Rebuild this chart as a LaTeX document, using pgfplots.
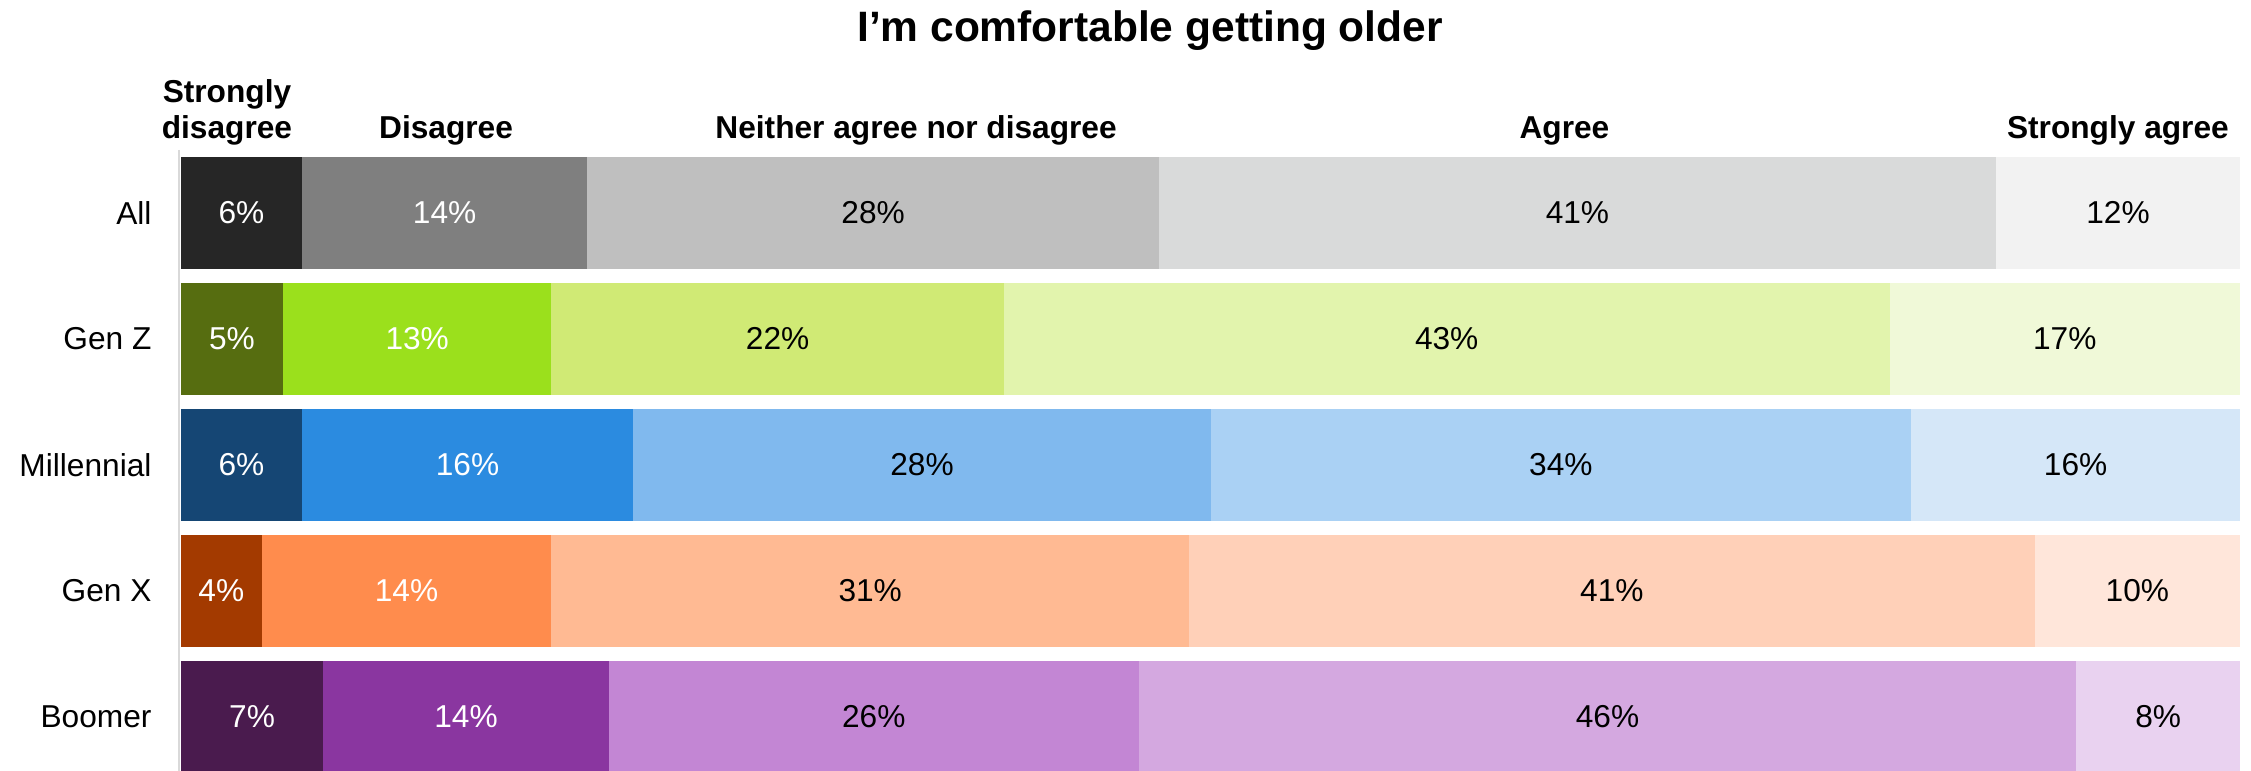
\documentclass[border=0pt]{standalone}
\usepackage{fontspec}
\setmainfont{Liberation Sans}
\usepackage{pgfplots}
\pgfplotsset{compat=1.18}

% --- colours -------------------------------------------------------------
\definecolor{a1}{HTML}{262626}\definecolor{a2}{HTML}{7F7F7F}\definecolor{a3}{HTML}{BFBFBF}\definecolor{a4}{HTML}{D9DADA}\definecolor{a5}{HTML}{F2F2F2}
\definecolor{z1}{HTML}{566D10}\definecolor{z2}{HTML}{9BE01C}\definecolor{z3}{HTML}{D0EA75}\definecolor{z4}{HTML}{E2F4AD}\definecolor{z5}{HTML}{F0F9D8}
\definecolor{m1}{HTML}{154674}\definecolor{m2}{HTML}{2B8BE0}\definecolor{m3}{HTML}{80B9EE}\definecolor{m4}{HTML}{AAD1F4}\definecolor{m5}{HTML}{D5E7F8}
\definecolor{x1}{HTML}{A33A00}\definecolor{x2}{HTML}{FF8C4D}\definecolor{x3}{HTML}{FFBA93}\definecolor{x4}{HTML}{FFD0B8}\definecolor{x5}{HTML}{FFE6DA}
\definecolor{b1}{HTML}{4A1B4E}\definecolor{b2}{HTML}{8A36A0}\definecolor{b3}{HTML}{C386D4}\definecolor{b4}{HTML}{D4A8E0}\definecolor{b5}{HTML}{E9D2F0}
\definecolor{axisgray}{HTML}{D9D9D9}

\newcommand{\lblfont}{\fontsize{11.4}{13.7}\selectfont}
\pgfplotsset{
  seg/.style={xbar, bar width=40.32pt, bar shift=0pt, draw=none, fill=#1, forget plot},
  lbl/.style={draw=none, mark=none, forget plot, nodes near coords,
    point meta=explicit symbolic,
    every node near coord/.style={anchor=center, inner sep=0pt, font=\lblfont, text=#1}},
}

\begin{document}
\begin{tikzpicture}
\useasboundingbox (-64.44pt,0pt) rectangle (745.92pt,277.56pt);
\begin{axis}[
  scale only axis,
  width=741.96pt, height=223.6pt,
  xmin=-0.1, xmax=100,
  ymin=-0.5, ymax=4.43,
  y dir=reverse,
  clip mode=individual,
  axis x line=none,
  axis y line=left,
  y axis line style={-, draw=axisgray, line width=0.72pt},
  ytick={0,1,2,3,4},
  yticklabels={All,Gen Z,Millennial,Gen X,Boomer},
  major tick length=0pt,
  ytick style={draw=none},
  yticklabel style={font=\lblfont, anchor=east, inner sep=0pt, xshift=-9.7pt},
]
% Cumulative segment ends (percent of bar), drawn from the right end backwards
% All
\addplot[seg=a5] coordinates {(100,0)};
\addplot[seg=a4] coordinates {(88.15,0)};
\addplot[seg=a3] coordinates {(47.49,0)};
\addplot[seg=a2] coordinates {(19.74,0)};
\addplot[seg=a1] coordinates {(5.86,0)};
% Gen Z
\addplot[seg=z5] coordinates {(100,1)};
\addplot[seg=z4] coordinates {(82.98,1)};
\addplot[seg=z3] coordinates {(39.96,1)};
\addplot[seg=z2] coordinates {(17.99,1)};
\addplot[seg=z1] coordinates {(4.95,1)};
% Millennial
\addplot[seg=m5] coordinates {(100,2)};
\addplot[seg=m4] coordinates {(84.03,2)};
\addplot[seg=m3] coordinates {(50.00,2)};
\addplot[seg=m2] coordinates {(21.97,2)};
\addplot[seg=m1] coordinates {(5.86,2)};
% Gen X
\addplot[seg=x5] coordinates {(100,3)};
\addplot[seg=x4] coordinates {(90.03,3)};
\addplot[seg=x3] coordinates {(48.95,3)};
\addplot[seg=x2] coordinates {(17.99,3)};
\addplot[seg=x1] coordinates {(3.91,3)};
% Boomer
\addplot[seg=b5] coordinates {(100,4)};
\addplot[seg=b4] coordinates {(92.05,4)};
\addplot[seg=b3] coordinates {(46.51,4)};
\addplot[seg=b2] coordinates {(20.78,4)};
\addplot[seg=b1] coordinates {(6.90,4)};

% value labels (segment midpoints)
\addplot[lbl=white] coordinates {
  (2.93,0) [6\%]   (12.80,0) [14\%]
  (2.475,1) [5\%]  (11.47,1) [13\%]
  (2.93,2) [6\%]   (13.915,2) [16\%]
  (1.955,3) [4\%]  (10.95,3) [14\%]
  (3.45,4) [7\%]   (13.84,4) [14\%]
};
\addplot[lbl=black] coordinates {
  (33.615,0) [28\%] (67.82,0) [41\%] (94.075,0) [12\%]
  (28.975,1) [22\%] (61.47,1) [43\%] (91.49,1) [17\%]
  (35.985,2) [28\%] (67.015,2) [34\%] (92.015,2) [16\%]
  (33.47,3) [31\%]  (69.49,3) [41\%] (95.015,3) [10\%]
  (33.645,4) [26\%] (69.28,4) [46\%] (96.025,4) [8\%]
};

% title and column headers
\node[anchor=base, font=\fontsize{15.3}{18}\selectfont\bfseries] at (axis cs:47.06,-1.36) {I’m comfortable getting older};
\node[anchor=base, font=\lblfont\bfseries, inner sep=0pt] at (axis cs:2.23,-0.877) {Strongly};
\node[anchor=base, font=\lblfont\bfseries, inner sep=0pt] at (axis cs:2.23,-0.591) {disagree};
\node[anchor=base, font=\lblfont\bfseries, inner sep=0pt] at (axis cs:12.87,-0.591) {Disagree};
\node[anchor=base, font=\lblfont\bfseries, inner sep=0pt] at (axis cs:35.70,-0.591) {Neither agree nor disagree};
\node[anchor=base, font=\lblfont\bfseries, inner sep=0pt] at (axis cs:67.19,-0.591) {Agree};
\node[anchor=base, font=\lblfont\bfseries, inner sep=0pt] at (axis cs:94.07,-0.591) {Strongly agree};
\end{axis}
\end{tikzpicture}
\end{document}
